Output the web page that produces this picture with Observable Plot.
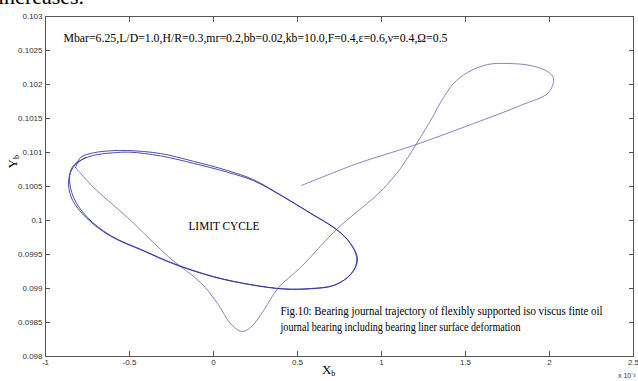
<!DOCTYPE html>
<html>
<head>
<meta charset="utf-8">
<script src="https://cdn.jsdelivr.net/npm/d3@7"></script>
<script src="https://cdn.jsdelivr.net/npm/@observablehq/plot@0.6"></script>
<style>
  html, body { margin: 0; padding: 0; background: #fff; overflow: hidden; }
  #wrap { position: relative; width: 638px; height: 381px; overflow: hidden; }
  #above { position: absolute; left: -2px; top: -16px; font: 22px "Liberation Serif", "Times New Roman", serif; color: #000; white-space: nowrap; }
  #chart { position: absolute; left: 0; top: 0; }
</style>
</head>
<body>
<div id="wrap">
  <div id="chart"></div>
  <div id="above">increases.</div>
</div>
<script>
// ---- data (Xb in units of 1e-3, Yb) ----
const transientX = [0.524, 0.857, 1.190, 1.548, 1.827, 1.994, 2.024, 1.988, 1.887, 1.750, 1.631, 1.512, 1.429, 1.369, 1.292, 1.202, 1.113, 1.012, 0.935, 0.738, 0.518, 0.387, 0.298, 0.220, 0.167, 0.101, 0.024, -0.077, -0.256, -0.512, -0.714, -0.821];
const transientY = [0.100515, 0.100838, 0.101103, 0.101426, 0.101691, 0.101882, 0.102088, 0.102191, 0.102279, 0.102309, 0.102294, 0.102176, 0.102015, 0.101809, 0.101471, 0.101103, 0.100765, 0.100471, 0.100294, 0.099882, 0.099309, 0.099015, 0.098676, 0.098426, 0.098368, 0.098485, 0.098779, 0.099088, 0.099441, 0.100044, 0.100485, 0.100779];
const cycleX = [-0.821, -0.792, -0.714, -0.613, -0.512, -0.315, -0.119, 0.083, 0.238, 0.417, 0.577, 0.738, 0.815, 0.857, 0.845, 0.798, 0.714, 0.577, 0.417, 0.220, 0.000, -0.238, -0.417, -0.613, -0.750, -0.833, -0.857, -0.839,
                -0.780, -0.700, -0.600, -0.500, -0.315, -0.119, 0.083, 0.238, 0.417, 0.577, 0.738, 0.815, 0.852, 0.842, 0.795, 0.710, 0.577, 0.417, 0.220, 0.000, -0.238, -0.417, -0.613, -0.755, -0.845, -0.862, -0.830, -0.760];
const cycleY = [0.100779, 0.100926, 0.100995, 0.101025, 0.101029, 0.100985, 0.100870, 0.100735, 0.100600, 0.100350, 0.100110, 0.099860, 0.099665, 0.099456, 0.099309, 0.099162, 0.099044, 0.099000, 0.098995, 0.099059, 0.099176, 0.099368, 0.099559, 0.099779, 0.100044, 0.100338, 0.100618, 0.100790,
                0.100900, 0.100965, 0.100995, 0.101005, 0.100950, 0.100840, 0.100710, 0.100585, 0.100345, 0.100105, 0.099855, 0.099660, 0.099456, 0.099305, 0.099158, 0.099040, 0.098995, 0.098992, 0.099055, 0.099170, 0.099362, 0.099552, 0.099770, 0.100035, 0.100330, 0.100600, 0.100800, 0.100930];
const xTicks = [-1, -0.5, 0, 0.5, 1, 1.5, 2, 2.5];
const yTicks = [0.098, 0.0985, 0.099, 0.0995, 0.1, 0.1005, 0.101, 0.1015, 0.102, 0.1025, 0.103];
const paramText = "Mbar=6.25,L/D=1.0,H/R=0.3,mr=0.2,bb=0.02,kb=10.0,F=0.4,ε=0.6,ν=0.4,Ω=0.5";
const cycleLabel = "LIMIT CYCLE";
const captionLines = ["Fig.10: Bearing journal trajectory of flexibly supported iso viscus finte oil",
                      "journal bearing including bearing liner surface deformation"];
const xLabel = "Xb", yLabel = "Yb", xExponent = "x 10⁻³";

const transient = transientX.map((x, i) => ({x, y: transientY[i]}));
const cycle = cycleX.map((x, i) => ({x, y: cycleY[i]}));
const fmt = d => String(+d.toFixed(4));
const serif = "Liberation Serif, Times New Roman, serif";
const sans = "Liberation Sans, Arial, sans-serif";

const chart = Plot.plot({
  width: 638, height: 381,
  marginLeft: 45, marginRight: 5, marginTop: 16, marginBottom: 25,
  style: {fontFamily: sans, background: "#fff"},
  x: {domain: [-1, 2.5]},
  y: {domain: [0.098, 0.103]},
  marks: [
    Plot.frame({stroke: "#555", strokeWidth: 1}),
    Plot.axisX({anchor: "bottom", ticks: xTicks, tickSize: -5, tickPadding: 8, tickFormat: fmt, fontSize: 8, fill: "#333", stroke: "#555", label: null}),
    Plot.axisX({anchor: "top", ticks: xTicks, tickSize: -5, tickFormat: () => "", stroke: "#555", label: null}),
    Plot.axisY({anchor: "left", ticks: yTicks, tickSize: -5, tickPadding: 8, tickFormat: fmt, fontSize: 8, fill: "#333", stroke: "#555", label: null}),
    Plot.axisY({anchor: "right", ticks: yTicks, tickSize: -5, tickFormat: () => "", stroke: "#555", label: null}),
    Plot.line(transient, {x: "x", y: "y", stroke: "#5050aa", strokeWidth: 0.7, curve: "catmull-rom"}),
    Plot.line(cycle, {x: "x", y: "y", stroke: "#2c2ca2", strokeWidth: 0.85, curve: "catmull-rom"}),
    Plot.text([paramText], {x: -0.893, y: 0.10269, text: d => d, textAnchor: "start", fontFamily: serif, fontSize: 12.5, fill: "#000"}),
    Plot.text([cycleLabel], {x: -0.149, y: 0.099926, text: d => d, textAnchor: "start", fontFamily: serif, fontSize: 12.5, fill: "#000"}),
    Plot.text(captionLines, {x: 0.399, y: (d, i) => [0.098662, 0.098427][i], text: d => d, textAnchor: "start", fontFamily: serif, fontSize: 11.5, fill: "#000"}),
    Plot.text([xLabel], {x: 0.685, frameAnchor: "bottom", dy: 17, text: d => d, fontFamily: serif, fontSize: 13, fill: "#000"}),
    Plot.text([yLabel], {y: 0.100765, frameAnchor: "left", dx: -33, rotate: -90, text: d => d, fontFamily: serif, fontSize: 13, fill: "#000"}),
    Plot.text([xExponent], {frameAnchor: "bottom-right", dx: 2, dy: 21, textAnchor: "end", text: d => d, fontFamily: sans, fontSize: 7, fill: "#333"})
  ]
});
document.getElementById("chart").appendChild(chart);

// horizontally condensed serif annotations, as in the reference
const condensed = new Map([[paramText, 384], [cycleLabel, 71], [captionLines[0], 322], [captionLines[1], 240]]);
d3.select(chart).selectAll("text").filter(function() { return condensed.has(this.textContent); })
  .each(function() {
    d3.select(this).attr("textLength", condensed.get(this.textContent)).attr("lengthAdjust", "spacingAndGlyphs");
  });

// subscript "b" on axis labels
d3.select(chart).selectAll("text").filter(function() { return this.textContent === "Xb" || this.textContent === "Yb"; })
  .each(function() {
    const t = d3.select(this);
    const main = this.textContent[0];
    t.text(main);
    t.append("tspan").attr("font-size", 8).attr("dy", "0.3em").text("b");
  });
</script>
</body>
</html>
